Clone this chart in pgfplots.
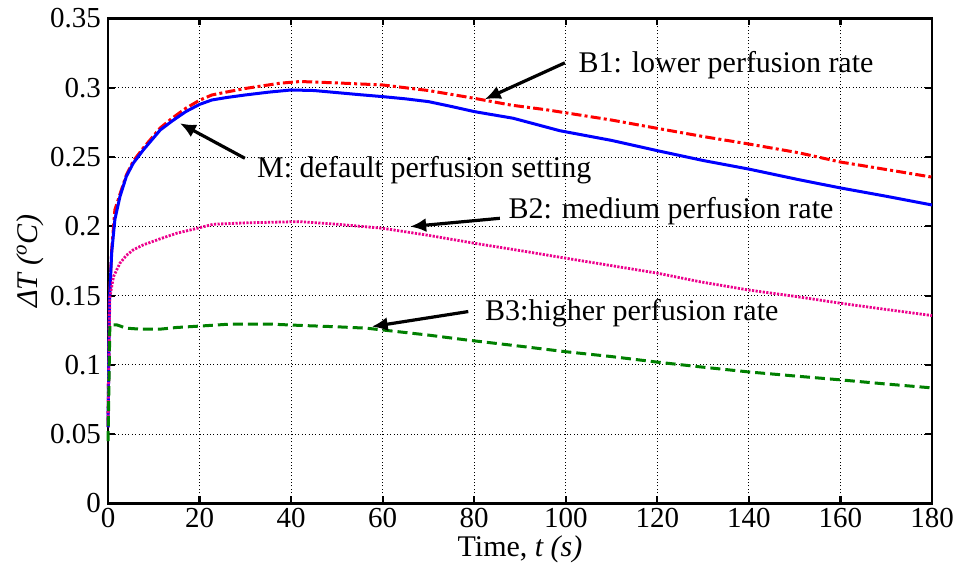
\documentclass[border=0pt]{standalone}
\usepackage{pgfplots}
\pgfplotsset{compat=1.18}
\usepackage{fontspec}
\setmainfont{Liberation Serif}
\usetikzlibrary{arrows.meta}

\begin{document}
\begin{tikzpicture}
\begin{axis}[
    scale only axis,
    width=412pt, height=242.5pt,
    xmin=0, xmax=180,
    ymin=0, ymax=0.35,
    xtick={0,20,40,60,80,100,120,140,160,180},
    ytick={0,0.05,0.1,0.15,0.2,0.25,0.3,0.35},
    yticklabels={0,0.05,0.1,0.15,0.2,0.25,0.3,0.35},
    grid=major,
    major grid style={black, line width=0.5pt, dash pattern=on 0.5pt off 1.2pt},
    axis line style={line width=1.4pt},
    tick style={black, line width=1.1pt},
    major tick length=3.5pt,
    tick align=inside,
    ticklabel style={font=\fontsize{14.5}{17}\selectfont},
    xticklabel style={yshift=1pt},
    /pgf/number format/assume math mode=true,
    label style={font=\fontsize{15}{18}\selectfont},
    xlabel={Time, \textit{t (s)}},
    xlabel style={yshift=3pt},
    ylabel={\textit{ΔT (\textsuperscript{o}C)}},
    ylabel style={yshift=-3.5pt},
    clip=false,
]

% --- B1: lower perfusion rate ---
\addplot[red, line width=1.5pt, dash pattern=on 5pt off 1.6pt on 1.5pt off 1.6pt] coordinates {
(0,0.055)(0.3,0.147)(0.8,0.183)(1.5,0.212)(2.6,0.223)(4,0.237)(5.5,0.247)(7.7,0.2565)
(11.4,0.271)(14,0.278)(17,0.2852)(20,0.291)(22.7,0.2948)(26,0.297)(30,0.2995)(37.6,0.3033)
(42,0.3045)(50,0.3035)(60,0.302)(70,0.298)(80,0.2924)(88,0.2875)(96,0.284)(110,0.2767)
(120,0.2707)(130,0.2648)(140,0.2594)(151,0.253)(160,0.2464)(170,0.241)(180,0.2355)
};

% --- M: default perfusion setting ---
\addplot[blue, line width=1.5pt] coordinates {
(0,0.055)(0.3,0.145)(0.8,0.181)(1.5,0.205)(2.6,0.2214)(4,0.236)(5.5,0.2455)(7.7,0.2551)
(11.4,0.2695)(14,0.276)(17,0.2828)(20,0.288)(22.7,0.2912)(26,0.293)(30,0.2948)(35,0.2968)
(40,0.2984)(45,0.298)(50,0.2965)(55,0.295)(60,0.2936)(65,0.292)(70,0.29)(75,0.2865)
(80,0.2828)(88.5,0.278)(98.7,0.269)(110,0.262)(120,0.2546)(130,0.2475)(140,0.2413)
(151,0.2336)(160,0.2277)(170,0.2217)(180,0.2154)
};

% --- B2: medium perfusion rate ---
\addplot[magenta, line width=1.4pt, dash pattern=on 1.1pt off 0.7pt] coordinates {
(0,0.06)(0.4,0.149)(1.2,0.1637)(2.6,0.1734)(4,0.179)(5.5,0.183)(7.7,0.1866)(11.4,0.191)
(15,0.195)(20,0.199)(23,0.2015)(30,0.2025)(41.9,0.2034)(50,0.2015)(60,0.1986)(70,0.1935)
(80,0.1878)(90,0.1825)(100,0.177)(110,0.1716)(120,0.1662)(129.3,0.160)(140,0.154)
(150,0.1495)(160,0.1445)(170,0.140)(180,0.1356)
};

% --- B3: higher perfusion rate ---
\addplot[green!50!black, line width=1.5pt, dash pattern=on 5pt off 2.5pt] coordinates {
(0,0.045)(0.4,0.1289)(1.9,0.1289)(4,0.1265)(7,0.1258)(11.4,0.1258)(15,0.127)(20,0.128)
(27,0.1295)(35,0.1295)(41.9,0.1285)(50,0.1275)(56.4,0.1265)(60,0.1252)(70,0.1215)
(78.3,0.118)(90,0.1135)(100,0.1095)(110,0.106)(120,0.102)(129.3,0.0986)(140,0.0949)
(150,0.092)(160,0.0892)(170,0.0862)(180,0.0834)
};

% --- annotations ---
\tikzset{ann/.style={-{Latex[length=8pt,width=7pt]}, line width=1.6pt, black},
         lab/.style={anchor=west, inner sep=0pt, font=\fontsize{15}{18}\selectfont}}
\draw[ann] (axis cs:99.8,0.318) -- (axis cs:82.3,0.2917);
\node[lab] at (axis cs:102.7,0.3165) {B1: lower perfusion rate};
\draw[ann] (axis cs:29.9,0.2491) -- (axis cs:15.7,0.2744);
\node[lab] at (axis cs:32.5,0.2407) {M: default perfusion setting};
\draw[ann] (axis cs:85.6,0.2058) -- (axis cs:66,0.1998);
\node[lab] at (axis cs:87.4,0.2113) {B2: medium perfusion rate};
\draw[ann] (axis cs:78.7,0.1385) -- (axis cs:57.6,0.1276);
\node[lab] at (axis cs:82.3,0.1373) {B3:higher perfusion rate};

% page frame with the reference's margins
\path (rel axis cs:-0.1311,-0.1431) rectangle (rel axis cs:1.0352,1.0381);
\end{axis}
\end{tikzpicture}
\end{document}
